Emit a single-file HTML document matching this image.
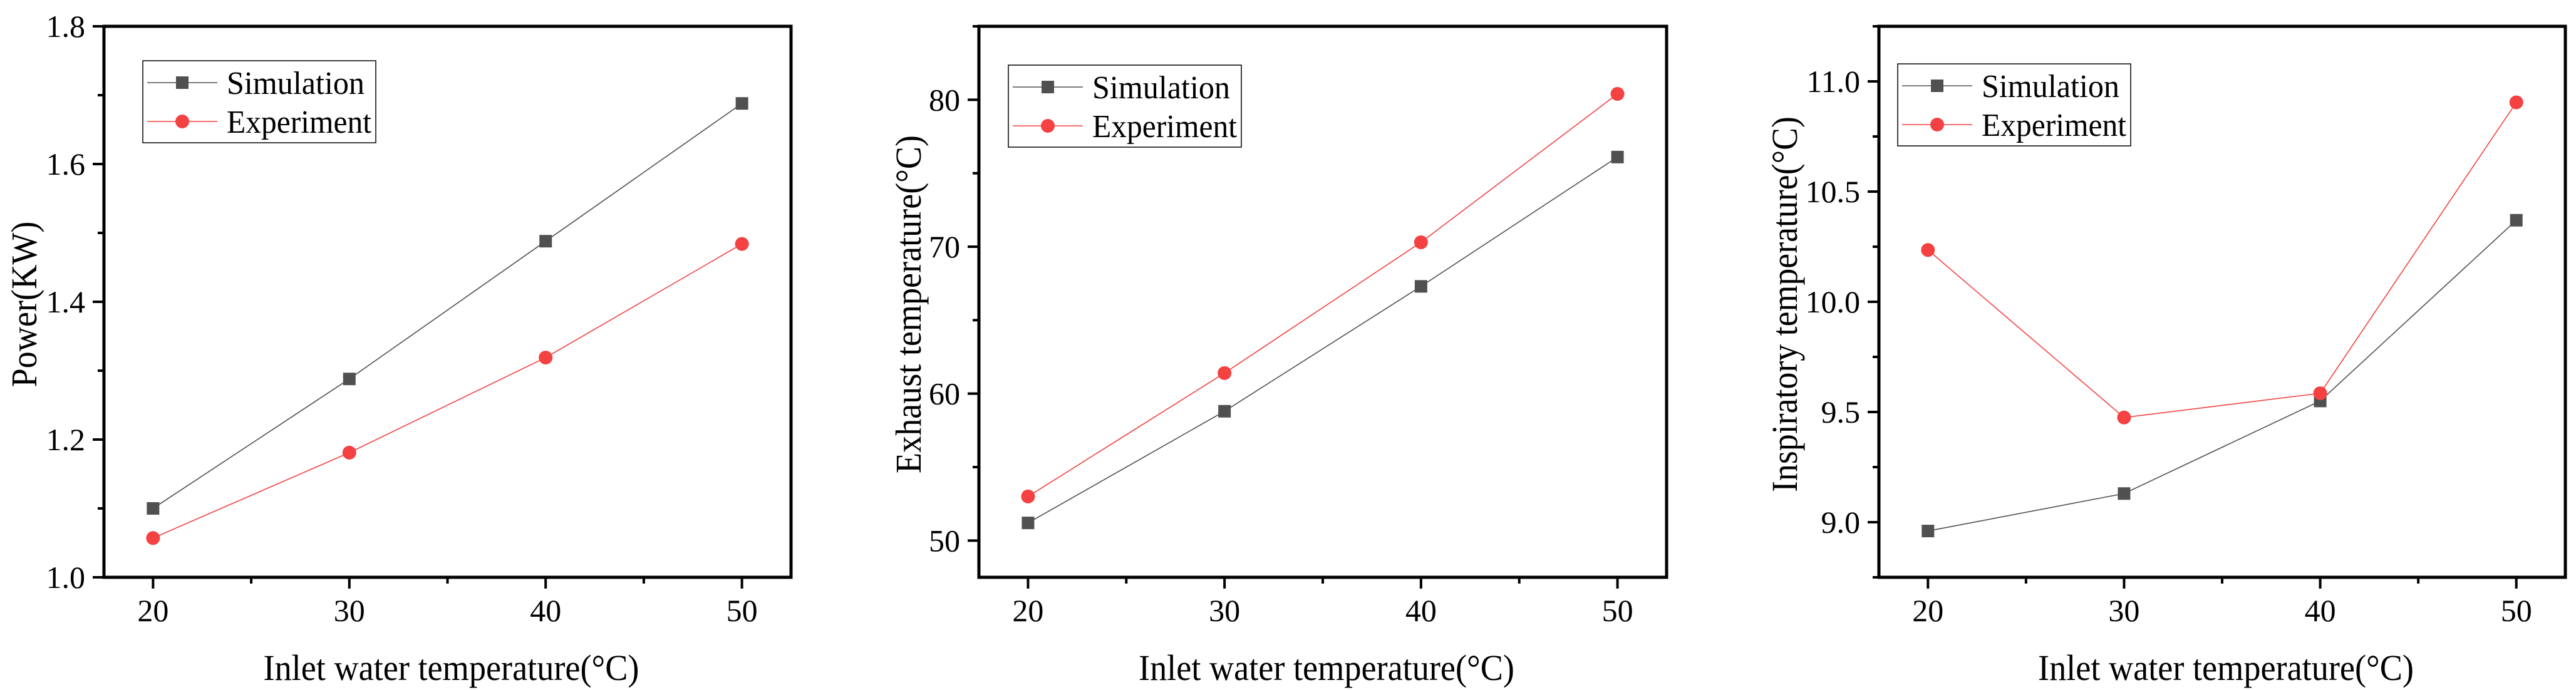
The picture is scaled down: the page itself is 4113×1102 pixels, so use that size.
<!DOCTYPE html>
<html><head><meta charset="utf-8"><style>
html,body{margin:0;padding:0;background:#fff;}
svg{display:block;font-family:"Liberation Serif",serif;}
</style></head><body>
<svg id="fig" width="4113" height="1102" viewBox="0 0 4113 1102" xmlns="http://www.w3.org/2000/svg"></svg>
<script>
const xCategories = [20, 30, 40, 50];
const xTickLabels = ["20", "30", "40", "50"];
const powerSim = [1.100, 1.288, 1.488, 1.688];
const powerExp = [1.057, 1.181, 1.319, 1.484];
const powerTicks = ["1.0", "1.2", "1.4", "1.6", "1.8"];
const exhaustSim = [51.2, 58.8, 67.3, 76.1];
const exhaustExp = [53.0, 61.4, 70.3, 80.4];
const exhaustTicks = ["50", "60", "70", "80"];
const inspSim = [8.96, 9.13, 9.55, 10.37];
const inspExp = [10.235, 9.475, 9.585, 10.905];
const inspTicks = ["9.0", "9.5", "10.0", "10.5", "11.0"];

const NS = "http://www.w3.org/2000/svg";
const svg = document.getElementById("fig");
function mk(tag, attrs, parent) {
  const e = document.createElementNS(NS, tag);
  for (const k in attrs) e.setAttribute(k, attrs[k]);
  (parent || svg).appendChild(e);
  return e;
}

const charts = [
  {id: "power", left: 166, right: 1263, ymin: 1.0, ymax: 1.8, minor: 0.1, sim: powerSim, exp: powerExp, ticks: powerTicks,
   ytitle: "Power(KW)", ytx: 38, ytlen: 265, lx: 228, ly: 97},
  {id: "exhaust", left: 1563, right: 2661, ymin: 47.5, ymax: 85, minor: 5, sim: exhaustSim, exp: exhaustExp, ticks: exhaustTicks,
   ytitle: "Exhaust temperature(°C)", ytx: 1450, ytlen: 540, lx: 1610, ly: 104},
  {id: "inspiratory", left: 3000, right: 4096, ymin: 8.75, ymax: 11.25, minor: 0.25, sim: inspSim, exp: inspExp, ticks: inspTicks,
   ytitle: "Inspiratory temperature(°C)", ytx: 2849, ytlen: 600, lx: 3030, ly: 102}
];
const TOP = 42, BOT = 922, XMIN = 17.5, XMAX = 52.5;

charts.forEach(c => {
  const g = mk("g", {});
  
  
  const xs = v => c.left + (v - XMIN) / (XMAX - XMIN) * (c.right - c.left);
  const ys = v => BOT - (v - c.ymin) / (c.ymax - c.ymin) * (BOT - TOP);

  const fr = mk("rect", {x: c.left, y: TOP, width: c.right - c.left, height: BOT - TOP, fill: "none", stroke: "#000", "stroke-width": 5}, g);
  
  

  const start = Math.ceil(c.ymin / c.minor - 1e-6);
  const end = Math.floor(c.ymax / c.minor + 1e-6);
  for (let k = start; k <= end; k++) {
    const v = k * c.minor;
    const y = ys(v);
    const lbl = c.ticks.find(t => Math.abs(parseFloat(t) - v) < 1e-6);
    const len = lbl ? 18 : 10;
    const t = mk("line", {x1: c.left - len, x2: c.left, y1: y, y2: y, stroke: "#000", "stroke-width": 4}, g);
    
    
    if (lbl) {
      const tx = mk("text", {x: c.left - 30, y: y + 17, "font-size": 50, "text-anchor": "end"}, g);
      tx.textContent = lbl;
      
      
    }
  }
  xCategories.forEach((v, i) => {
    const x = xs(v);
    const t = mk("line", {x1: x, x2: x, y1: BOT, y2: BOT + 18, stroke: "#000", "stroke-width": 4}, g);
    
    
    const tx = mk("text", {x: x, y: BOT + 70, "font-size": 50, "text-anchor": "middle"}, g);
    tx.textContent = xTickLabels[i];
    
    
    if (i < xCategories.length - 1) {
      const mx = xs(v + 5);
      const m = mk("line", {x1: mx, x2: mx, y1: BOT, y2: BOT + 10, stroke: "#000", "stroke-width": 4}, g);
      
      
    }
  });
  const xt = mk("text", {x: (c.left + c.right) / 2 + 6, y: 1086, "font-size": 58, "text-anchor": "middle", textLength: 600, lengthAdjust: "spacingAndGlyphs"}, g);
  xt.textContent = "Inlet water temperature(°C)";
  
  
  const cy = (TOP + BOT) / 2 + 4;
  const yt = mk("text", {x: 0, y: 0, "font-size": 58, "text-anchor": "middle", textLength: c.ytlen, lengthAdjust: "spacingAndGlyphs",
    transform: `translate(${c.ytx + 20},${cy}) rotate(-90)`}, g);
  yt.textContent = c.ytitle;
  
  

  const series = [{name: "simulation", data: c.sim, color: "#505050", shape: "sq"}, {name: "experiment", data: c.exp, color: "#f44141", shape: "ci"}];
  series.forEach(s => {
    const pts = s.data.map((v, i) => xs(xCategories[i]) + "," + ys(v)).join(" ");
    const pl = mk("polyline", {points: pts, fill: "none", stroke: s.color, "stroke-width": 1.6}, g);
    
    
    s.data.forEach((v, i) => {
      const x = xs(xCategories[i]), y = ys(v);
      let m;
      if (s.shape === "sq") m = mk("rect", {x: x - 10, y: y - 10, width: 20, height: 20, fill: s.color}, g);
      else m = mk("circle", {cx: x, cy: y, r: 11, fill: s.color}, g);
      
      
    });
  });

  const lg = mk("g", {}, g);
  
  
  mk("rect", {x: c.lx, y: c.ly, width: 372, height: 131, fill: "#fff", stroke: "#000", "stroke-width": 1.5}, lg);
  series.forEach((s, k) => {
    const ry = c.ly + 35 + k * 62;
    const e = mk("g", {}, lg);
    
    
    mk("line", {x1: c.lx + 7, x2: c.lx + 119, y1: ry, y2: ry, stroke: s.color, "stroke-width": 1.6}, e);
    if (s.shape === "sq") mk("rect", {x: c.lx + 53, y: ry - 10, width: 20, height: 20, fill: s.color}, e);
    else mk("circle", {cx: c.lx + 63, cy: ry, r: 11, fill: s.color}, e);
    const t = mk("text", {x: c.lx + 134, y: ry + 18, "font-size": 52, textLength: k === 0 ? 220 : 231, lengthAdjust: "spacingAndGlyphs"}, e);
    t.textContent = k === 0 ? "Simulation" : "Experiment";
  });
});
</script>
</body></html>
